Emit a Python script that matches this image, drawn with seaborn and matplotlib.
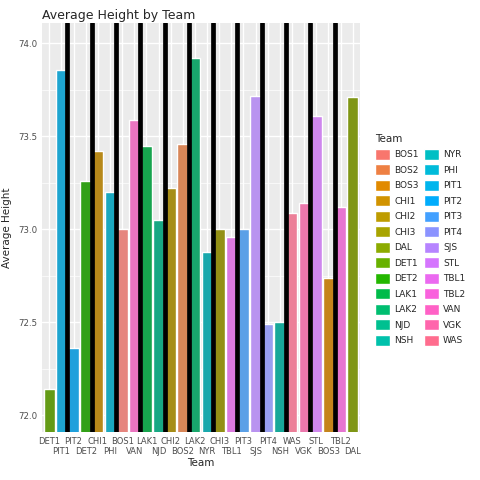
import numpy as np
import pandas as pd
import matplotlib
matplotlib.use("Agg")
import matplotlib.pyplot as plt
import seaborn as sns
from matplotlib.patches import Patch

teams = ["DET1", "PIT1", "PIT2", "DET2", "CHI1", "PHI", "BOS1", "VAN", "LAK1", "NJD",
         "CHI2", "BOS2", "LAK2", "NYR", "CHI3", "TBL1", "PIT3", "SJS", "PIT4", "NSH",
         "WAS", "VGK", "STL", "BOS3", "TBL2", "DAL"]
avg_height = [72.14, 73.86, 72.36, 73.26, 73.42, 73.20, 73.00, 73.59, 73.45, 73.05,
              73.22, 73.46, 73.92, 72.88, 73.00, 72.96, 73.00, 73.72, 72.49, 72.50,
              73.09, 73.14, 73.61, 72.74, 73.12, 73.71]


def hue_pal(n, l=65, c=100):
    # ggplot2 default hue palette (polar LUV -> sRGB)
    hues = np.linspace(15, 375, n + 1)[:-1]
    un, vn = 0.1978398, 0.4683363
    Y = 100 * ((l + 16) / 116) ** 3
    out = []
    for h in hues:
        u = c * np.cos(np.radians(h))
        v = c * np.sin(np.radians(h))
        up = u / (13 * l) + un
        vp = v / (13 * l) + vn
        X = Y * 9 * up / (4 * vp)
        Z = Y * (12 - 3 * up - 20 * vp) / (4 * vp)
        xyz = np.array([X, Y, Z]) / 100
        m = np.array([[3.2404542, -1.5371385, -0.4985314],
                      [-0.9692660, 1.8760108, 0.0415560],
                      [0.0556434, -0.2040259, 1.0572252]])
        rgb = m @ xyz
        rgb = np.where(rgb <= 0.0031308, 12.92 * rgb, 1.055 * np.clip(rgb, 0, None) ** (1 / 2.4) - 0.055)
        out.append(tuple(np.clip(rgb, 0, 1)))
    return out


levels = sorted(teams)
palette = dict(zip(levels, hue_pal(len(levels))))

df = pd.DataFrame({"Team": teams, "Height": avg_height})

sns.set_theme(style="darkgrid")
plt.rcParams["font.family"] = ["DejaVu Sans"]
fig = plt.figure(figsize=(4.8, 4.8), dpi=100)
ax = fig.add_axes([0.0875, 0.1, 0.6625, 0.852])
ax.set_facecolor("#EBEBEB")

sns.barplot(data=df, x="Team", y="Height", hue="Team", palette=palette,
            order=teams, dodge=False, legend=False, width=0.9, ax=ax)
for p in ax.patches:
    h = p.get_height()
    p.set_y(60)
    p.set_height(h - 60)

for k in range(12):
    ax.axvline(1.5 + 2 * k, color="black", lw=3.4, zorder=3)

ax.set_ylim(71.91, 74.11)
ax.set_xlim(-0.6, 25.6)
ax.set_yticks([72.0, 72.5, 73.0, 73.5, 74.0])
ax.set_yticks([72.25, 72.75, 73.25, 73.75], minor=True)
ax.grid(which="major", color="white", lw=1.0)
ax.grid(which="minor", axis="y", color="white", lw=0.5)
ax.set_axisbelow(True)
ax.set_xticks(range(len(teams)))
ax.set_xticklabels([t if i % 2 == 0 else "\n" + t for i, t in enumerate(teams)])
ax.tick_params(axis="both", labelsize=6.2, colors="#4D4D4D", length=2.5, pad=1, color="#333333")
ax.tick_params(axis="x", labelsize=6.0)
ax.set_xlabel("Team", fontsize=7.5, labelpad=1)
ax.set_ylabel("Average Height", fontsize=7.5)
for s in ax.spines.values():
    s.set_visible(False)
ax.set_title("Average Height by Team", fontsize=9, loc="left", pad=3)

handles = [Patch(facecolor=palette[t], label=t) for t in levels]
fig.legend(handles=handles, title="Team", ncol=2, loc="center left",
           bbox_to_anchor=(0.765, 0.5), frameon=False, fontsize=6.5,
           title_fontsize=7.5, handlelength=1.6, handleheight=1.5,
           labelspacing=0.5, columnspacing=0.6, handletextpad=0.5,
           alignment="left")

fig.savefig("out.png", dpi=100)
